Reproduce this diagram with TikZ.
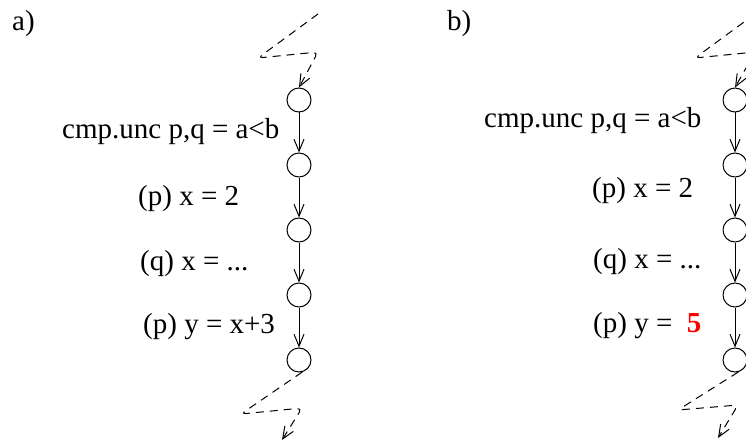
\documentclass[tikz,border=0pt]{standalone}
\usepackage{fontspec}
\setmainfont{Liberation Serif}
\usetikzlibrary{arrows.meta,positioning}

\begin{document}
\begin{tikzpicture}[x=1pt,y=-1pt,
  state/.style={draw,circle,line width=1pt,minimum size=24pt,inner sep=0pt},
  lbl/.style={anchor=base west,inner sep=0pt,font=\fontsize{29}{32}\selectfont},
  arr/.style={-{Straight Barb[length=12pt,width=10pt]},line width=1pt},
  jump/.style={arr,dash pattern=on 8pt off 6pt,rounded corners=5pt}
]
  \useasboundingbox (0,0) rectangle (746,441);
  % a) original thread
  \node[lbl] (tagA) at (12,31) {a)};
  \node[state] (a1) at (299,100) {};
  \node[state,below=40pt of a1] (a2) {};
  \node[state,below=40pt of a2] (a3) {};
  \node[state,below=40pt of a3] (a4) {};
  \node[state,below=40pt of a4] (a5) {};
  \node[lbl] (la1) at (62,138) {cmp.unc p,q = a<b};
  \node[lbl] (la2) at (138,205) {(p) x = 2};
  \node[lbl] (la3) at (140,270) {(q) x = ...};
  \node[lbl] (la4) at (143,333) {(p) y = x+3};
  \draw[arr] (a1)--(a2);
  \draw[arr] (a2)--(a3);
  \draw[arr] (a3)--(a4);
  \draw[arr] (a4)--(a5);
  \coordinate (inA) at (318,14);
  \coordinate (outA) at (282,440);
  \draw[jump] (inA) -- (258,58) -- (318,52) -- (a1.north);
  \draw[jump] (a5.-75) -- (241,414) -- (302,408) -- (outA);
  % b) after propagation
  \node[lbl] (tagB) at (447,31) {b)};
  \node[state] (b1) at (735,100) {};
  \node[state,below=40pt of b1] (b2) {};
  \node[state,below=40pt of b2] (b3) {};
  \node[state,below=40pt of b3] (b4) {};
  \node[state,below=40pt of b4] (b5) {};
  \node[lbl] (lb1) at (484,128) {cmp.unc p,q = a<b};
  \node[lbl] (lb2) at (592,197) {(p) x = 2};
  \node[lbl] (lb3) at (593,268) {(q) x = ...};
  \node[lbl] (lb4) at (593,332) {(p) y =~~\textcolor{red}{\textbf{5}}};
  \draw[arr] (b1)--(b2);
  \draw[arr] (b2)--(b3);
  \draw[arr] (b3)--(b4);
  \draw[arr] (b4)--(b5);
  \coordinate (inB) at (755,14);
  \coordinate (outB) at (718,438);
  \draw[jump] (inB) -- (695,58) -- (755,52) -- (b1.north);
  \draw[jump] (b5.-75) -- (678,410) -- (738,405) -- (outB);
\end{tikzpicture}
\end{document}
